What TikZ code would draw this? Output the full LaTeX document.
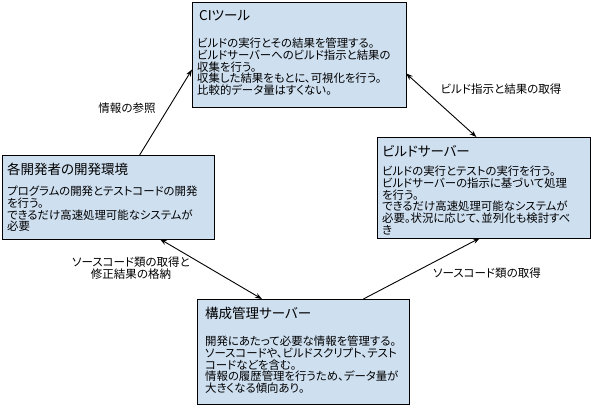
\documentclass[tikz,border=0pt]{standalone}
\usepackage{fontspec}
\setmainfont[RawFeature=+palt]{Noto Sans CJK JP}
\usetikzlibrary{arrows.meta}
\definecolor{boxfill}{HTML}{CEDFF0}
\begin{document}
\begin{tikzpicture}[x=1pt,y=-1pt,
  box/.style={draw=black, line width=1pt, fill=boxfill, anchor=north west, inner sep=0pt, outer sep=0pt},
  ttl/.style={anchor=north west, inner sep=0pt, font=\fontsize{13.5}{15}\selectfont},
  body/.style={anchor=north west, inner sep=0pt, align=left, font=\fontsize{11.4}{11.7}\selectfont},
  lbl/.style={inner sep=0pt, align=center, font=\fontsize{11.5}{10.5}\selectfont},
  arr/.style={line width=0.9pt, -{Stealth[length=7pt,width=5pt]}},
  darr/.style={line width=0.9pt, {Stealth[length=7pt,width=5pt]}-{Stealth[length=7pt,width=5pt]}}
]
\useasboundingbox (0,0) rectangle (591,407);

% boxes
\node[box, minimum width=214pt, minimum height=105pt] (ci) at (192,2) {};
\node[box, minimum width=212pt, minimum height=84pt] (dev) at (2,155) {};
\node[box, minimum width=213pt, minimum height=101pt] (build) at (377,137) {};
\node[box, minimum width=212pt, minimum height=105pt] (cfg) at (197,299) {};

% titles
\node[ttl] (cit) at (199,10) {CIツール};
\node[ttl] (devt) at (7,163) {各開発者の開発環境};
\node[ttl] (buildt) at (382,145) {ビルドサーバー};
\node[ttl] (cfgt) at (205,307) {構成管理サーバー};

% bodies
\node[body] (cib) at (197,38) {ビルドの実行とその結果を管理する。\\ビルドサーバーへのビルド指示と結果の\\収集を行う。\\収集した結果をもとに、可視化を行う。\\比較的データ量はすくない。};
\node[body] (devb) at (7,186) {プログラムの開発とテストコードの開発\\を行う。\\できるだけ高速処理可能なシステムが\\必要};
\node[body] (buildb) at (382,166) {ビルドの実行とテストの実行を行う。\\ビルドサーバーの指示に基づいて処理\\を行う。\\できるだけ高速処理可能なシステムが\\必要。状況に応じて、並列化も検討すべ\\き};
\node[body] (cfgb) at (205,336) {開発にあたって必要な情報を管理する。\\ソースコードや、ビルドスクリプト、テスト\\コードなどを含む。\\情報の履歴管理を行うため、データ量が\\大きくなる傾向あり。};

% connectors
\draw[arr] (dev.53) -- (ci.188);
\draw[darr] (ci.-10) -- (build.98);
\draw[darr] (dev.-39) -- (cfg.128);
\draw[arr] (cfg.41) -- (build.-94);

% labels
\node[lbl] (l1) at (127,108) {情報の参照};
\node[lbl] (l2) at (501,89) {ビルド指示と結果の取得};
\node[lbl] (l3) at (131,268) {ソースコード類の取得と\\修正結果の格納};
\node[lbl] (l4) at (487,273) {ソースコード類の取得};
\end{tikzpicture}
\end{document}
